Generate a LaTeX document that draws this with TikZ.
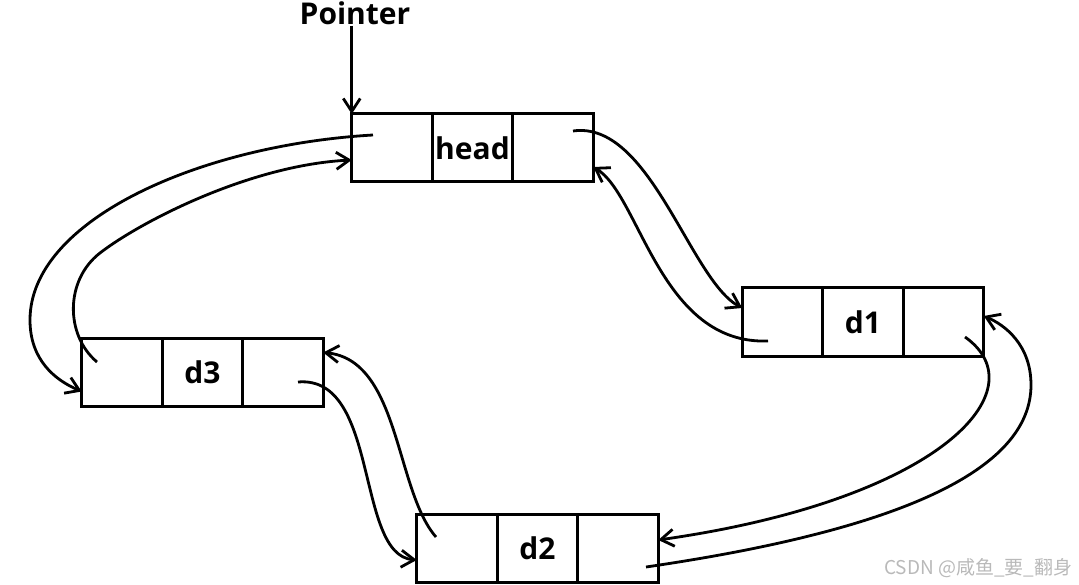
\documentclass[tikz,border=0pt]{standalone}
\usepackage{fontspec}
\setmainfont{Open Sans}
\newfontfamily\cjk{Noto Sans CJK SC}
\usetikzlibrary{positioning,arrows.meta}

\begin{document}
\begin{tikzpicture}[x=1pt, y=-1pt, node distance=0pt,
    cell/.style={draw, line width=3pt, minimum width=80.5pt, minimum height=68pt,
        inner sep=0pt, outer sep=0pt, font=\fontsize{30}{34}\selectfont\bfseries},
    link/.style={line width=2.8pt, -{Straight Barb[length=13pt,width=17pt]}}]
    \useasboundingbox (0,0) rectangle (1079,585);

    % Define nodes
    \node[cell] (head) at (472.5,148) {head};
    \node[cell, left=of head] (headL) {};
    \node[cell, right=of head] (headR) {};

    \node[cell] (d1) at (863,322) {d1};
    \node[cell, left=of d1] (d1L) {};
    \node[cell, right=of d1] (d1R) {};

    \node[cell] (d2) at (537.5,548) {d2};
    \node[cell, left=of d2] (d2L) {};
    \node[cell, right=of d2] (d2R) {};

    \node[cell] (d3) at (202.5,372.5) {d3};
    \node[cell, left=of d3] (d3L) {};
    \node[cell, right=of d3] (d3R) {};

    \node[font=\fontsize{30}{34}\selectfont\bfseries, inner sep=1pt] (pointer) at (355,13) {Pointer};
    \node[text=gray!55, font=\cjk\fontsize{19}{22}\selectfont, anchor=east] (mark) at (1076,568) {CSDN @咸鱼\_要\_翻身};

    % Pointer ends inside the cells
    \coordinate (headN) at (573,131);
    \coordinate (headP) at (373,135);
    \coordinate (d1N) at (965,337);
    \coordinate (d1P) at (768,341);
    \coordinate (d2N) at (646,567);
    \coordinate (d2P) at (436,537);
    \coordinate (d3N) at (298,382);
    \coordinate (d3P) at (97,362);

    % Draw edges
    \draw[link] (pointer.south -| headL.north west) -- (headL.north west);
    \draw[link] (headN) .. controls (650,120) and (690,280) .. ([yshift=14pt]d1L.west);
    \draw[link] (d1P) .. controls (660,345) and (640,195) .. ([yshift=-19pt]headR.east);
    \draw[link] (d1N) .. controls (1040,390) and (940,500) .. ([yshift=8pt]d2R.east);
    \draw[link] (d2N) .. controls (900,530) and (1031,470) .. (1031,385)
        .. controls (1031,345) and (1005,325) .. ([yshift=6pt]d1R.east);
    \draw[link] (d2P) .. controls (395,490) and (400,360) .. ([yshift=20pt]d3R.east);
    \draw[link] (d3N) .. controls (380,375) and (355,555) .. ([yshift=-12pt]d2L.west);
    \draw[link] (headP) .. controls (200,145) and (30,220) .. (30,320)
        .. controls (30,360) and (55,380) .. ([yshift=-19pt]d3L.west);
    \draw[link] (d3P) .. controls (65,335) and (65,280) .. (100,253)
        .. controls (140,222) and (250,165) .. ([yshift=-12pt]headL.west);
\end{tikzpicture}
\end{document}
